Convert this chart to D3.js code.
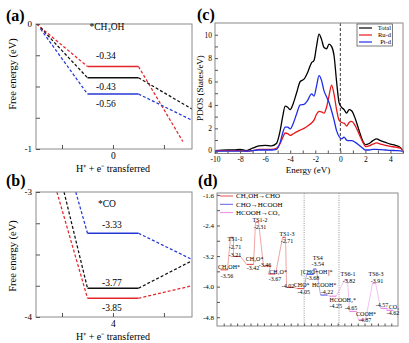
<!DOCTYPE html>
<html><head><meta charset="utf-8">
<script src="https://cdn.jsdelivr.net/npm/d3@7/dist/d3.min.js"></script>
<style>
html,body{margin:0;padding:0;background:#fff;}
svg{display:block;font-family:"Liberation Serif","Times New Roman",Times,serif;}
</style></head><body>
<svg id="fig" width="409" height="343"></svg>
<script>
// ================= DATA =================
// (a) *CH3OH step — series order: red, black, blue
const aLevels  = [-0.34, -0.43, -0.56];
const aStarts  = [[-1.5, 0], [-1.42, -0.03], [-1.42, -0.04]];
const aEnds    = [[1.37, -0.94], [1.55, -0.68], [1.55, -0.77]];
const aPlateau = [-0.5, 0.5];
const aYTickLabels = [0, -1];
const aXTickLabel  = 0;
// (b) *CO step — series order: red, black, blue
const bLevels  = [-3.85, -3.77, -3.33];
const bStarts  = [[2.9, -3], [3.04, -3], [3.27, -3]];
const bEnds    = [[5.55, -3.75], [5.55, -3.55], [5.55, -3.54]];
const bPlateau = [3.5, 4.5];
const bYTickLabels = [-3, -4];
const bXTickLabel  = 4;
// (c) PDOS
const energy = [-10,-9,-8.5,-8,-7.5,-7,-6.5,-6,-5.5,-5.1,-4.8,-4.6,-4.4,-4.2,-4.0,-3.8,-3.5,-3.2,-2.9,-2.6,-2.3,-2.1,-1.9,-1.7,-1.5,-1.3,-1.1,-0.9,-0.7,-0.5,-0.3,-0.1,0.1,0.3,0.5,0.7,0.9,1.2,1.5,1.8,2.0,2.3,2.6,2.9,3.2,3.6,4.0,4.4,4.8,5.0];
const pdosTotal = [0.1,0.15,0.15,0.2,0.1,0.3,0.5,0.55,0.5,0.7,1.8,3.0,3.9,3.8,3.6,4.0,5.0,6.0,6.2,6.8,7.6,7.8,9.0,10.05,9.6,8.9,8.8,9.2,9.0,8.2,6.0,4.2,3.8,3.6,3.3,3.6,3.5,2.8,1.8,0.9,0.6,0.7,0.95,1.1,0.95,0.8,0.65,0.55,0.35,0.1];
const pdosRu    = [0.1,0.1,0.1,0.1,0.05,0.1,0.2,0.2,0.2,0.3,0.7,1.2,1.6,1.55,1.4,1.5,1.7,1.85,2.0,2.2,2.45,2.7,3.2,3.45,3.4,3.3,3.8,4.8,5.7,4.9,3.6,2.7,2.5,2.45,2.2,2.5,2.6,2.2,1.5,0.8,0.45,0.5,0.65,0.75,0.65,0.55,0.45,0.4,0.3,0.05];
const pdosPt    = [0.05,0.05,0.05,0.05,0.05,0.1,0.15,0.15,0.15,0.2,0.8,1.6,2.1,2.1,1.95,2.3,3.2,4.0,4.05,4.4,4.95,4.75,5.6,6.5,6.1,5.2,4.7,4.2,3.5,2.7,1.8,1.3,1.1,1.25,1.0,0.95,0.95,0.8,0.55,0.3,0.15,0.15,0.2,0.2,0.18,0.15,0.12,0.1,0.08,0.03];
const pdosNames = ["Total", "Ru-d", "Pt-d"];
const cXTicks = [-10,-8,-6,-4,-2,0,2,4];
const cYTicks = [0,2,4,6,8,10];
// (d) reaction energy profile
const dStates   = ["CH₃OH*","TS1-1","","CH₃O*","TS1-2","","CH₂O*","TS1-3","","CHO*","[CHO+OH]*","TS4","HCOOH*","HCOOH₂*","TS6-1","","COOH*","TS6-3","","CO₂"];
const dEnergies = [-3.56,-2.71,-3.21,-3.42,-2.31,-3.46,-3.67,-2.71,-4.02,-4.05,-3.68,-3.54,-4.22,-4.25,-3.82,-4.65,-4.87,-3.91,-4.57,-4.62];
const dCoord    = [1.04,2.24,2.99,4.93,5.97,7.46,8.21,10.0,10.9,12.48,13.88,14.58,15.97,17.28,19.25,20.3,21.64,23.43,24.93,25.82];
const dStage    = [0,0,0,0,0,0,0,0,0,0,1,1,1,2,2,2,2,2,2,2];
const dStageNames = ["CH₃OH→CHO","CHO→HCOOH","HCOOH→CO₂"];
const dYTicks   = [-1.6,-2.4,-3.2,-4.0,-4.8];
const dDividers = [13.0, 18.2];

// ================= RENDER =================
const svg = d3.select("#fig");
const defs = svg.append("defs");
const FRAME = "#8a8a8a";
const near = (a,b) => Math.abs(a-b) < 1e-9;

function txt(x, y, s, size, o = {}) {
  return svg.append("text").attr("x", x).attr("y", y).attr("font-size", size)
    .attr("text-anchor", o.anchor || "middle").attr("font-weight", o.weight || "normal")
    .attr("fill", o.fill || "#000").text(s);
}
function styleAxis(g, size, tickColor) {
  g.attr("font-family", null).attr("font-size", size);
  g.select(".domain").remove();
  g.selectAll(".tick line").attr("stroke", tickColor || "#555");
  g.selectAll(".tick text").attr("fill", "#000");
}

// panel letters
txt(6, 21, "(a)", 16, {anchor:"start", weight:"bold"});
txt(6, 186, "(b)", 16, {anchor:"start", weight:"bold"});
txt(197, 20, "(c)", 16, {anchor:"start", weight:"bold"});
txt(198, 186, "(d)", 16, {anchor:"start", weight:"bold"});

// ---------- (a) & (b) ----------
function stepPanel(cfg) {
  const L = 36, R = 192;
  const x = d3.scaleLinear().domain(cfg.xDomain).range([L, R]);
  const y = d3.scaleLinear().domain(cfg.yDomain).range([cfg.top, cfg.bottom]);
  const cid = "clip-" + cfg.id;
  defs.append("clipPath").attr("id", cid).append("rect")
    .attr("x", L).attr("y", cfg.top).attr("width", R - L).attr("height", cfg.bottom - cfg.top);
  const colors = ["#e3262b", "#111111", "#2438d6"];
  const line = d3.line().x(d => x(d[0])).y(d => y(d[1]));
  const lg = svg.append("g").attr("clip-path", `url(#${cid})`);
  cfg.levels.forEach((lv, i) => {
    const p0 = [cfg.plateau[0], lv], p1 = [cfg.plateau[1], lv];
    lg.append("path").attr("d", line([cfg.starts[i], p0])).attr("fill", "none")
      .attr("stroke", colors[i]).attr("stroke-width", 1.25).attr("stroke-dasharray", "3,2");
    lg.append("path").attr("d", line([p0, p1])).attr("fill", "none")
      .attr("stroke", colors[i]).attr("stroke-width", 1.7);
    lg.append("path").attr("d", line([p1, cfg.ends[i]])).attr("fill", "none")
      .attr("stroke", colors[i]).attr("stroke-width", 1.25).attr("stroke-dasharray", "3,2");
  });
  svg.append("rect").attr("x", L).attr("y", cfg.top).attr("width", R - L)
    .attr("height", cfg.bottom - cfg.top).attr("fill", "none").attr("stroke", FRAME);
  const y0 = cfg.yDomain[0];
  const yt = [0,1,2,3,4].map(k => y0 - k * 0.25);
  svg.append("g").attr("transform", `translate(${L},0)`)
    .call(d3.axisLeft(y).tickValues(yt).tickSize(-4).tickPadding(4)
      .tickFormat(d => cfg.yLabels.some(v => near(v, d)) ? String(d) : ""))
    .call(g => styleAxis(g, 9));
  const c = cfg.xLabel;
  svg.append("g").attr("transform", `translate(0,${cfg.bottom})`)
    .call(d3.axisBottom(x).tickValues([c - 1, c, c + 1]).tickSize(-4).tickPadding(3)
      .tickFormat(d => near(d, c) ? String(c) : ""))
    .call(g => styleAxis(g, 9.5));
  txt(x(c) - 6, cfg.titleY, cfg.title, 9.5);
  cfg.levels.forEach((lv, i) => {
    txt(x(c) + cfg.labelDx, y(lv) + cfg.labelDy[i], String(lv), 9.5);
  });
  txt(113, cfg.bottom + 23, "H⁺ + e⁻ transferred", 10);
  svg.append("text").attr("transform", `translate(15.5,${cfg.ylabY}) rotate(-90)`)
    .attr("text-anchor", "middle").attr("font-size", 10.5).text("Free energy (eV)");
}

stepPanel({id:"a", xDomain:[-1.51, 1.55], yDomain:[0, -1], top:24, bottom:149,
  levels:aLevels, starts:aStarts, ends:aEnds, plateau:aPlateau, yLabels:aYTickLabels,
  xLabel:aXTickLabel, title:"*CH₃OH", titleY:30, labelDx:-7, labelDy:[-7.5, 12, 13], ylabY:74});
stepPanel({id:"b", xDomain:[2.49, 5.55], yDomain:[-3, -4], top:192, bottom:317,
  levels:bLevels, starts:bStarts, ends:bEnds, plateau:bPlateau, yLabels:bYTickLabels,
  xLabel:bXTickLabel, title:"*CO", titleY:207, labelDx:-1, labelDy:[13, -2, -5], ylabY:256});

// ---------- (c) PDOS ----------
(function(){
  const L = 215, R = 403, T = 23, B = 153.5;
  const x = d3.scaleLinear().domain([-10, 5]).range([L, R]);
  const y = d3.scaleLinear().domain([-0.15, 11]).range([B, T]);
  defs.append("clipPath").attr("id", "clip-c").append("rect")
    .attr("x", L).attr("y", T).attr("width", R - L).attr("height", B - T);
  svg.append("line").attr("x1", x(0)).attr("x2", x(0)).attr("y1", T).attr("y2", B)
    .attr("stroke", "#222").attr("stroke-width", 0.9).attr("stroke-dasharray", "3,2");
  const series = [pdosTotal, pdosRu, pdosPt];
  const colors = ["#000000", "#e8161c", "#1f2fe8"];
  const line = d3.line().curve(d3.curveMonotoneX).x((d, i) => x(energy[i])).y(d => y(d));
  const g = svg.append("g").attr("clip-path", "url(#clip-c)");
  series.forEach((s, i) => {
    g.append("path").attr("d", line(s)).attr("fill", "none")
      .attr("stroke", colors[i]).attr("stroke-width", 1.3);
  });
  svg.append("rect").attr("x", L).attr("y", T).attr("width", R - L).attr("height", B - T)
    .attr("fill", "none").attr("stroke", FRAME);
  svg.append("g").attr("transform", `translate(${L},0)`)
    .call(d3.axisLeft(y).tickValues(d3.range(0, 11)).tickSize(-3).tickPadding(3)
      .tickFormat(d => cYTicks.includes(d) ? String(d) : ""))
    .call(g => styleAxis(g, 7.5))
    .call(g => g.selectAll(".tick text").filter(d => d === 0).attr("dy", "0.05em"));
  svg.append("g").attr("transform", `translate(0,${B})`)
    .call(d3.axisBottom(x).tickValues(d3.range(-10, 6)).tickSize(-3).tickPadding(3)
      .tickFormat(d => cXTicks.includes(d) ? String(d) : ""))
    .call(g => styleAxis(g, 7.5));
  txt(308, 172.5, "Energy (eV)", 9);
  svg.append("text").attr("transform", "translate(203,88) rotate(-90)")
    .attr("text-anchor", "middle").attr("font-size", 9).text("PDOS (States/eV)");
  svg.append("rect").attr("x", 357).attr("y", 24).attr("width", 35.5).attr("height", 22)
    .attr("fill", "#fff").attr("stroke", "#444").attr("stroke-width", 0.7);
  pdosNames.forEach((n, i) => {
    const yy = 28 + i * 7;
    svg.append("line").attr("x1", 359).attr("x2", 372).attr("y1", yy).attr("y2", yy)
      .attr("stroke", colors[i]).attr("stroke-width", 1.2);
    txt(391, yy + 2.2, n, 6.5, {anchor:"end"});
  });
})();

// ---------- (d) energy profile ----------
(function(){
  const L = 217, R = 398, T = 193, B = 326;
  const x = d3.scaleLinear().domain([0, 27]).range([L, R]);
  const y = d3.scaleLinear().domain([-5.03, -1.55]).range([B, T]);
  const stageColors = ["#e25555", "#6262e2", "#ec88ec"];
  dDividers.forEach(v => {
    svg.append("line").attr("x1", x(v)).attr("x2", x(v)).attr("y1", T).attr("y2", B)
      .attr("stroke", "#777").attr("stroke-width", 0.8).attr("stroke-dasharray", "1,1.3");
  });
  svg.append("rect").attr("x", L).attr("y", T).attr("width", R - L).attr("height", B - T)
    .attr("fill", "none").attr("stroke", FRAME);
  const yt = d3.range(0, 9).map(k => -1.6 - k * 0.4);
  svg.append("g").attr("transform", `translate(${L},0)`)
    .call(d3.axisLeft(y).tickValues(yt).tickSize(-3).tickPadding(3)
      .tickFormat(d => dYTicks.some(v => near(v, d)) ? d.toFixed(1) : ""))
    .call(g => styleAxis(g, 7));
  svg.append("g").attr("transform", `translate(0,${B})`)
    .call(d3.axisBottom(x).tickValues(d3.range(1, 27)).tickSize(-2.5).tickFormat(""))
    .call(g => styleAxis(g, 7));
  const kind = s => s === "" ? "mid" : (s.startsWith("TS") ? "ts" : "min");
  const hw = i => kind(dStates[i]) === "ts" ? 1.5 : 3.5;
  const px = dCoord.map(v => x(v)), py = dEnergies.map(v => y(v));
  for (let i = 0; i < dStates.length - 1; i++) {
    svg.append("line").attr("x1", px[i] + hw(i)).attr("y1", py[i])
      .attr("x2", px[i + 1] - hw(i + 1)).attr("y2", py[i + 1])
      .attr("stroke", stageColors[dStage[i + 1]]).attr("stroke-width", 0.7).attr("opacity", 0.75);
  }
  dStates.forEach((s, i) => {
    svg.append("line").attr("x1", px[i] - hw(i)).attr("x2", px[i] + hw(i))
      .attr("y1", py[i]).attr("y2", py[i])
      .attr("stroke", stageColors[dStage[i]]).attr("stroke-width", 1.2);
  });
  // label layout nudges (px)
  const nameDy  = [-1, 4, 0, -3, 0, 0, 0, -1, 0, -1.5, -0.5, -9.5, -8.5, 5.5, -4, 0, -4, -7, 0, -1.5];
  const valueDy = [8, 12, 0.5, 6, 6.5, 1, 6.5, 5.5, 0.5, 5.5, 6, -3, -1.5, 12, 3, -1.5, 2.5, -0.5, -1.5, 5];
  const nameDx  = [2, 0, 0, 1.5, 0, 0, 3, 0, 0, -2, 3.5, 0, -3, 7, -1, 0, 1, -1, 0, 1];
  dStates.forEach((s, i) => {
    const k = kind(s);
    const lx = px[i] + (k === "mid" ? -2 : 3);
    if (s) txt(lx + nameDx[i], py[i] + nameDy[i], s, 6);
    txt(lx, py[i] + valueDy[i], dEnergies[i].toFixed(2), 6);
  });
  dStageNames.forEach((n, i) => {
    const yy = 196 + i * 8.3;
    svg.append("line").attr("x1", 220).attr("x2", 233).attr("y1", yy).attr("y2", yy)
      .attr("stroke", stageColors[i]).attr("stroke-width", 1);
    txt(236, yy + 2.3, n, 7, {anchor:"start"});
  });
})();
</script>
</body></html>
